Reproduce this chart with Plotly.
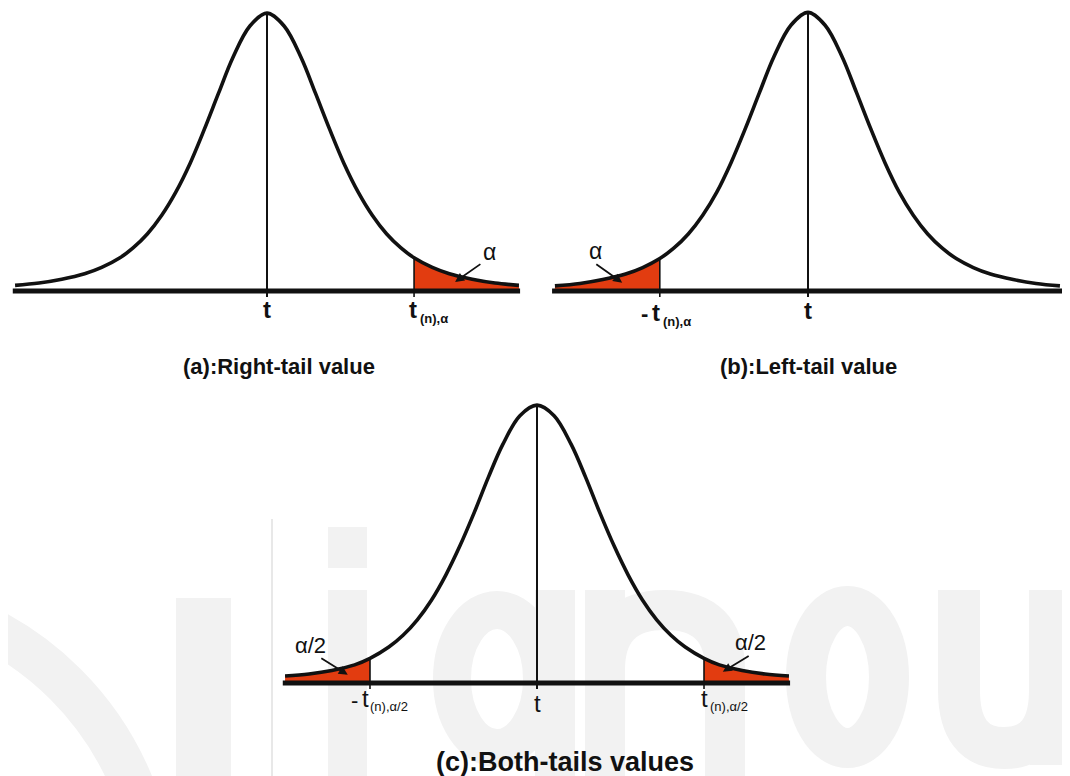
import plotly.graph_objects as go

# ------------------------------------------------------------------
# DATA (x in t-units, y in density units)
# ------------------------------------------------------------------
# (a) Right-tail
a_x = [-4.42, -4.0, -3.6, -3.2, -2.9, -2.58, -2.35, -2.1, -1.85, -1.6, -1.35, -1.1, -0.85, -0.6, -0.3, 0.0,
       0.3, 0.6, 0.85, 1.1, 1.35, 1.6, 1.85, 2.1, 2.35, 2.58, 2.9, 3.2, 3.6, 4.0, 4.42]
a_y = [0.0075, 0.0105, 0.0155, 0.0228, 0.0312, 0.0440, 0.0570, 0.0755, 0.100, 0.131, 0.169, 0.214, 0.262, 0.309, 0.351, 0.368,
       0.351, 0.309, 0.262, 0.214, 0.169, 0.131, 0.100, 0.0755, 0.0570, 0.0440, 0.0312, 0.0228, 0.0155, 0.0105, 0.0075]
a_crit = [2.58]
a_axis = [-4.46, 4.44]

# (b) Left-tail
b_x = [-4.44, -4.0, -3.6, -3.2, -2.9, -2.6, -2.35, -2.1, -1.85, -1.6, -1.35, -1.1, -0.85, -0.6, -0.3, 0.0,
       0.3, 0.6, 0.85, 1.1, 1.35, 1.6, 1.85, 2.1, 2.35, 2.6, 2.9, 3.2, 3.6, 4.0, 4.42]
b_y = [0.0068, 0.0100, 0.0152, 0.0225, 0.0311, 0.0430, 0.0570, 0.0755, 0.100, 0.131, 0.170, 0.215, 0.263, 0.310, 0.352, 0.369,
       0.352, 0.310, 0.263, 0.215, 0.170, 0.131, 0.100, 0.0755, 0.0570, 0.0430, 0.0311, 0.0225, 0.0152, 0.0100, 0.0068]
b_crit = [-2.6]
b_axis = [-4.49, 4.46]

# (c) Both-tails
c_x = [-4.42, -4.0, -3.6, -3.2, -2.93, -2.6, -2.35, -2.1, -1.85, -1.6, -1.35, -1.1, -0.85, -0.6, -0.3, 0.0,
       0.3, 0.6, 0.85, 1.1, 1.35, 1.6, 1.85, 2.1, 2.35, 2.6, 2.93, 3.2, 3.6, 4.0, 4.42]
c_y = [0.0093, 0.0120, 0.0166, 0.0240, 0.0326, 0.0476, 0.0632, 0.0837, 0.110, 0.143, 0.182, 0.226, 0.273, 0.316, 0.354, 0.368,
       0.354, 0.316, 0.273, 0.226, 0.182, 0.143, 0.110, 0.0837, 0.0632, 0.0476, 0.0326, 0.0240, 0.0166, 0.0120, 0.0093]
c_crit = [-2.93, 2.93]
c_axis = [-4.46, 4.44]

captions = ["(a):Right-tail value", "(b):Left-tail value", "(c):Both-tails values"]

# ------------------------------------------------------------------
W, H = 1070, 776
OFF = 8          # page margin of the browser body
SX = 57.0        # px per t-unit
SY = 755.0       # px per density unit
BLACK = "#111111"
RED = "#e23c10"
WM = "#f2f2f2"
FONT = "Liberation Sans, Arial, sans-serif"


def axes_for(box, center_px, base_px):
    x0, x1, y0, y1 = box
    xdom = [(x0 - OFF) / W, (x1 - OFF) / W]
    ydom = [1 - (y1 - OFF) / H, 1 - (y0 - OFF) / H]
    xr = [(x0 - center_px) / SX, (x1 - center_px) / SX]
    yr = [(base_px - y1) / SY, (base_px - y0) / SY]
    return xdom, ydom, xr, yr


def curve_at(xs, ys, x):
    return ys[xs.index(x)]


fig = go.Figure()

panels = [
    dict(n="", x=a_x, y=a_y, crit=a_crit, axis=a_axis, box=(8, 540, 8, 300), c=267, b=291),
    dict(n="2", x=b_x, y=b_y, crit=b_crit, axis=b_axis, box=(540, 1078, 8, 300), c=808, b=291),
    dict(n="3", x=c_x, y=c_y, crit=c_crit, axis=c_axis, box=(8, 1078, 390, 784), c=537, b=683),
]

layout_axes = {}
for p in panels:
    xa, ya = "x" + p["n"], "y" + p["n"]
    xdom, ydom, xr, yr = axes_for(p["box"], p["c"], p["b"])
    layout_axes["xaxis" + p["n"]] = dict(domain=xdom, range=xr, visible=False, fixedrange=True)
    layout_axes["yaxis" + p["n"]] = dict(domain=ydom, range=yr, visible=False, fixedrange=True)
    xs, ys = p["x"], p["y"]
    # shaded tails
    for cr in p["crit"]:
        if cr > 0:
            idx = [i for i, v in enumerate(xs) if v >= cr]
        else:
            idx = [i for i, v in enumerate(xs) if v <= cr]
        fig.add_trace(go.Scatter(x=[xs[i] for i in idx], y=[ys[i] for i in idx], mode="lines",
                                 line=dict(width=0, shape="spline", color=RED),
                                 fill="tozeroy", fillcolor=RED, xaxis=xa, yaxis=ya,
                                 hoverinfo="skip", showlegend=False))
    # horizontal axis
    fig.add_trace(go.Scatter(x=p["axis"], y=[0, 0], mode="lines", line=dict(width=5, color=BLACK),
                             xaxis=xa, yaxis=ya, hoverinfo="skip", showlegend=False))
    # centre line
    fig.add_trace(go.Scatter(x=[0, 0], y=[-0.008, max(ys)], mode="lines", line=dict(width=2, color=BLACK),
                             xaxis=xa, yaxis=ya, hoverinfo="skip", showlegend=False))
    # critical lines
    for cr in p["crit"]:
        fig.add_trace(go.Scatter(x=[cr, cr], y=[-0.008, curve_at(xs, ys, cr)], mode="lines",
                                 line=dict(width=1.6, color=BLACK),
                                 xaxis=xa, yaxis=ya, hoverinfo="skip", showlegend=False))
    # density curve
    fig.add_trace(go.Scatter(x=xs, y=ys, mode="lines", line=dict(width=3.6, color=BLACK, shape="spline"),
                             xaxis=xa, yaxis=ya, hoverinfo="skip", showlegend=False))

ann = []


def label(text, xa, ya, x, xs=0, ys=0, size=22, bold=False, anchor="center", family=FONT):
    ann.append(dict(text=("<b>%s</b>" % text) if bold else text, x=x, y=0, xref=xa, yref=ya,
                    xshift=xs, yshift=ys, showarrow=False, xanchor=anchor, yanchor="middle",
                    font=dict(size=size, color=BLACK, family=family)))


def arrow(xa, ya, tail, head):
    ann.append(dict(text="", x=head[0], y=head[1], ax=tail[0], ay=tail[1], xref=xa, yref=ya,
                    axref=xa, ayref=ya, showarrow=True, arrowhead=2, arrowsize=1.0, arrowwidth=1.8,
                    arrowcolor=BLACK, standoff=0, startstandoff=0))


# (a)
label("t", "x", "y", 0, ys=-18, size=24, bold=True)
label("t", "x", "y", a_crit[0], xs=-1, ys=-18, size=24, bold=True)
label("(n),α", "x", "y", a_crit[0], xs=4, ys=-27, size=13, bold=True, anchor="left")
label("α", "x", "y", 3.91, ys=39, size=23)
arrow("x", "y", (3.77, 0.037), (3.30, 0.012))
label(captions[0], "x", "y", 0, xs=12, ys=-75, size=22, bold=True)

# (b)
label("t", "x2", "y2", 0, ys=-19, size=24, bold=True)
label("-", "x2", "y2", b_crit[0], xs=-15, ys=-22, size=22, bold=True)
label("t", "x2", "y2", b_crit[0], xs=-4, ys=-21, size=24, bold=True)
label("(n),α", "x2", "y2", b_crit[0], xs=1, ys=-30, size=13, bold=True, anchor="left")
label("α", "x2", "y2", -3.72, ys=40, size=23)
arrow("x2", "y2", (-3.74, 0.037), (-3.26, 0.011))
label(captions[1], "x2", "y2", 0, xs=0, ys=-75, size=22, bold=True)

# (c)
label("t", "x3", "y3", 0, xs=0, ys=-20, size=24)
label("-", "x3", "y3", c_crit[0], xs=-15, ys=-17, size=22)
label("t", "x3", "y3", c_crit[0], xs=-4, ys=-15, size=24)
label("(n),α/2", "x3", "y3", c_crit[0], xs=-2, ys=-23, size=13, anchor="left")
label("t", "x3", "y3", c_crit[1], xs=0, ys=-15, size=24)
label("(n),α/2", "x3", "y3", c_crit[1], xs=4, ys=-23, size=13, anchor="left")
label("α/2", "x3", "y3", -3.98, ys=38, size=22)
label("α/2", "x3", "y3", 3.74, ys=41, size=22)
arrow("x3", "y3", (-3.81, 0.034), (-3.32, 0.011))
arrow("x3", "y3", (3.74, 0.037), (3.26, 0.015))
label(captions[2], "x3", "y3", 0, xs=28, ys=-79, size=27, bold=True)

# ------------------------------------------------------------------
# faint "ignou" watermark (decoration, pixel geometry of the page)
# ------------------------------------------------------------------
def P(x, y):
    return (x - OFF) / W, 1 - (y - OFF) / H


def rect(x0, y0, x1, y1, color=WM):
    a, b = P(x0, y1)
    c, d = P(x1, y0)
    return dict(type="rect", xref="paper", yref="paper", x0=a, y0=b, x1=c, y1=d,
                fillcolor=color, line=dict(width=0), layer="below")


def ring(x0, y0, x1, y1, w):
    a, b = P(x0, y1)
    c, d = P(x1, y0)
    return dict(type="circle", xref="paper", yref="paper", x0=a, y0=b, x1=c, y1=d,
                line=dict(width=w, color=WM), layer="below")


def path(pts, w):
    cmds = []
    for cmd, coords in pts:
        s = cmd
        for (x, y) in coords:
            px, py = P(x, y)
            s += " %.5f,%.5f" % (px, py)
        cmds.append(s)
    return dict(type="path", xref="paper", yref="paper", path=" ".join(cmds),
                line=dict(width=w, color=WM), layer="below")


shapes = [
    ring(-150 - 305, 900 - 305, -150 + 305, 900 + 305, 43),
    rect(176, 598, 231, 790),
    rect(271, 519, 273, 790, color="#e8e8e8"),
    rect(328, 527, 367, 568),
    rect(328, 590, 367, 790),
    ring(452, 610, 542, 748, 38),
    rect(535, 590, 575, 790),
    rect(585, 590, 625, 790),
    path([("M", [(605, 790)]), ("L", [(605, 670)]), ("Q", [(605, 610), (665, 610)]),
          ("Q", [(725, 610), (725, 670)]), ("L", [(725, 790)])], 40),
    ring(806, 606, 889, 748, 40),
    path([("M", [(959, 590)]), ("L", [(959, 690)]), ("Q", [(959, 748), (1004, 748)]),
          ("Q", [(1050, 748), (1050, 690)]), ("L", [(1050, 590)])], 42),
    rect(1030, 590, 1078, 765),
]

fig.update_layout(width=W, height=H, margin=dict(l=0, r=0, t=0, b=0),
                  paper_bgcolor="white", plot_bgcolor="rgba(0,0,0,0)",
                  showlegend=False, annotations=ann, shapes=shapes, **layout_axes)

fig.write_html("out.html")
